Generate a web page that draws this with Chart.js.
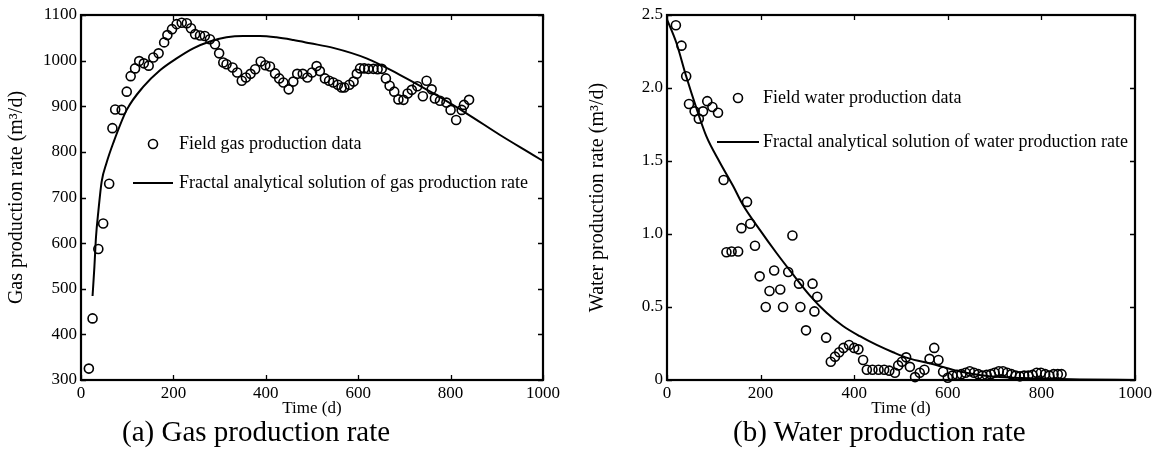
<!DOCTYPE html>
<html>
<head>
<meta charset="utf-8">
<script src="https://cdn.jsdelivr.net/npm/chart.js@4/dist/chart.umd.min.js"></script>
<style>
  html, body { margin: 0; padding: 0; background: #fff; }
  #wrap { position: relative; width: 1159px; height: 463px; overflow: hidden; }
  canvas { position: absolute; top: 0; }
  .cap { position: absolute; font-family: 'Liberation Serif', 'Times New Roman', serif; font-size: 29px; color: #000; white-space: nowrap; line-height: 1; }
</style>
</head>
<body>
<div id="wrap">
  <canvas id="gas" width="580" height="463" style="left:0px"></canvas>
  <canvas id="water" width="579" height="463" style="left:580px"></canvas>
  <div class="cap" id="capA" style="left:122px; top:417px;">(a) Gas production rate</div>
  <div class="cap" id="capB" style="left:733px; top:417px;">(b) Water production rate</div>
</div>
<script>
// ---- data ----
const xTickLabels = ['0', '200', '400', '600', '800', '1000'];
const gasTickLabels = ['300', '400', '500', '600', '700', '800', '900', '1000', '1100'];
const waterTickLabels = ['0', '0.5', '1.0', '1.5', '2.0', '2.5'];

// Field gas production data (time d, rate m3/d)
const gasTime = [17, 25, 37.5, 48, 61, 68, 74, 88, 99, 107.5, 117, 126, 136, 146.5, 156.5, 168, 180, 187, 197, 207,
  218, 229, 238, 247, 257.6, 268, 279, 290, 299, 308, 315, 328, 338, 348, 357, 367, 377, 389, 399, 409,
  420, 429, 438, 449.5, 459.5, 468, 480, 490, 500, 510, 517, 528, 537, 546, 556, 564, 570, 581, 590, 597,
  604, 613, 622, 633, 642, 651, 660, 668, 678, 687, 698, 707, 716, 728, 740, 748, 759, 766, 777, 791,
  800, 812, 824, 829, 840];
const gasRate = [325, 435, 587, 643, 730, 852, 893, 892, 932, 966, 983, 999, 994, 989, 1007, 1016, 1040, 1056, 1069, 1080,
  1083, 1082, 1071, 1058, 1055, 1054, 1047, 1036, 1016, 996, 992, 985, 974, 956, 963, 971, 981, 998, 990, 987,
  972, 961, 952, 937, 954, 971, 971, 963, 974, 988, 977, 961, 956, 952, 947, 941, 941, 947, 954, 971,
  983, 983, 982, 982, 981, 982, 961, 945, 932, 915, 914, 928, 936, 944, 922, 956, 937, 917, 912, 908,
  892, 870, 892, 903, 914];

// Fractal analytical solution of gas production rate
const gasFitTime = [25, 29, 32.5, 37.5, 44.7, 55, 70, 99, 135, 171, 207, 243, 279, 315, 351, 387, 423, 460, 496, 546, 618, 690, 763, 835, 907, 979, 1000];
const gasFitRate = [484, 548, 614, 669, 735, 775, 820, 892, 943, 979, 1005, 1027, 1042, 1051, 1054, 1054, 1051, 1045, 1038, 1028, 1005, 969, 928, 884, 837, 793, 780];

// Field water production data (time d, rate m3/d)
const waterTime = [19, 31, 41, 47, 59, 68, 77, 86, 97, 109, 121, 127, 138, 152, 159, 171, 178, 188, 198, 211,
  219, 229, 242, 248, 259, 268, 282, 285, 297, 311, 315, 321, 340, 350, 359, 368, 377, 389, 400, 409,
  419, 427, 439, 452, 464, 475, 487, 494, 502, 511, 519, 530, 540, 550, 561, 571, 580, 590, 600, 610,
  620, 629, 638, 647, 656, 665, 674, 683, 692, 700, 709, 718, 727, 736, 745, 754, 763, 772, 781, 790,
  799, 808, 817, 826, 835, 843];
const waterRate = [2.43, 2.29, 2.08, 1.89, 1.84, 1.79, 1.84, 1.91, 1.87, 1.83, 1.37, 0.875, 0.88, 0.88, 1.04, 1.22, 1.07, 0.92, 0.71, 0.50,
  0.61, 0.75, 0.62, 0.50, 0.74, 0.99, 0.66, 0.50, 0.34, 0.66, 0.47, 0.57, 0.29, 0.125, 0.16, 0.19, 0.22, 0.24, 0.22, 0.21,
  0.137, 0.07, 0.07, 0.07, 0.07, 0.064, 0.05, 0.10, 0.125, 0.155, 0.09, 0.02, 0.05, 0.07, 0.145, 0.22, 0.137, 0.057, 0.015, 0.03,
  0.035, 0.04, 0.05, 0.06, 0.05, 0.04, 0.03, 0.035, 0.04, 0.05, 0.06, 0.06, 0.05, 0.04, 0.03, 0.025, 0.03, 0.03, 0.035, 0.05,
  0.05, 0.04, 0.03, 0.04, 0.04, 0.04];

// Fractal analytical solution of water production rate
const waterFitTime = [0, 20, 41, 63, 84, 113, 141, 162, 198, 234, 270, 305, 341, 376, 412, 448, 483, 515, 567, 624, 667, 711, 800, 882, 1000];
const waterFitRate = [2.47, 2.31, 2.08, 1.86, 1.67, 1.49, 1.33, 1.20, 1.03, 0.87, 0.72, 0.58, 0.46, 0.37, 0.30, 0.24, 0.19, 0.15, 0.11, 0.06, 0.035, 0.02, 0.01, 0.004, 0.0];

// ---- helpers ----
const FONT = "'Liberation Serif', 'Times New Roman', serif";
const pts = (xs, ys) => xs.map((x, i) => ({ x: x, y: ys[i] }));

const framePlugin = {
  id: 'frame',
  afterDatasetsDraw(chart) {
    const { ctx, chartArea: a, scales } = chart;
    const L = 5;
    ctx.save();
    ctx.strokeStyle = '#000';
    ctx.lineWidth = 1.3;
    scales.x.ticks.forEach(t => {
      const px = Math.round(scales.x.getPixelForValue(t.value)) + 0.5;
      ctx.beginPath();
      ctx.moveTo(px, a.bottom); ctx.lineTo(px, a.bottom - L);
      ctx.moveTo(px, a.top); ctx.lineTo(px, a.top + L);
      ctx.stroke();
    });
    scales.y.ticks.forEach(t => {
      const py = Math.round(scales.y.getPixelForValue(t.value)) + 0.5;
      ctx.beginPath();
      ctx.moveTo(a.left, py); ctx.lineTo(a.left + L, py);
      ctx.moveTo(a.right, py); ctx.lineTo(a.right - L, py);
      ctx.stroke();
    });
    ctx.lineWidth = 2.2;
    ctx.strokeRect(a.left, a.top, a.right - a.left, a.bottom - a.top);
    // legend
    const lg = chart.options.plugins.innerLegend;
    ctx.font = '18px ' + FONT;
    ctx.fillStyle = '#000';
    ctx.textBaseline = 'middle';
    ctx.textAlign = 'left';
    ctx.lineWidth = 1.6;
    ctx.beginPath();
    ctx.arc(a.left + lg.mx, a.top + lg.my1, 4.5, 0, Math.PI * 2);
    ctx.stroke();
    ctx.fillText(lg.t1, a.left + lg.tx, a.top + lg.my1);
    ctx.lineWidth = 2;
    ctx.beginPath();
    ctx.moveTo(a.left + lg.l0, a.top + lg.my2);
    ctx.lineTo(a.left + lg.l1, a.top + lg.my2);
    ctx.stroke();
    ctx.fillText(lg.t2, a.left + lg.tx, a.top + lg.my2);
    ctx.restore();
  }
};

function makeChart(id, cfg) {
  return new Chart(document.getElementById(id), {
    type: 'scatter',
    data: {
      datasets: [
        {
          label: cfg.dataLabel,
          data: pts(cfg.xs, cfg.ys),
          pointStyle: 'circle',
          pointRadius: 4.5,
          pointBorderWidth: 1.6,
          pointBackgroundColor: 'rgba(0,0,0,0)',
          pointBorderColor: '#000',
          showLine: false,
          clip: false
        },
        {
          label: cfg.fitLabel,
          data: pts(cfg.fx, cfg.fy),
          showLine: true,
          pointRadius: 0,
          borderColor: '#000',
          borderWidth: 2,
          cubicInterpolationMode: 'monotone',
          fill: false
        }
      ]
    },
    options: {
      responsive: false,
      animation: false,
      devicePixelRatio: 1,
      layout: { padding: { left: 0, top: 15, right: cfg.padRight, bottom: 44 } },
      plugins: {
        legend: { display: false },
        tooltip: { enabled: false },
        innerLegend: cfg.legend
      },
      scales: {
        x: {
          type: 'linear',
          min: 0, max: 1000,
          afterBuildTicks: s => { s.ticks = xTickLabels.map(v => ({ value: Number(v) })); },
          ticks: {
            color: '#000', padding: 3, maxRotation: 0,
            font: { family: FONT, size: 17 },
            callback: (v, i) => xTickLabels[i]
          },
          grid: { display: false, drawTicks: false },
          border: { display: false },
          title: { display: true, text: 'Time (d)', color: '#000', font: { family: FONT, size: 17 }, padding: { top: 0, bottom: 0 } },
          afterFit: s => { s.height = 39; }
        },
        y: {
          type: 'linear',
          min: cfg.ymin, max: cfg.ymax,
          afterBuildTicks: s => { s.ticks = cfg.yTicks.map(v => ({ value: Number(v) })); },
          ticks: {
            color: '#000', padding: 4,
            font: { family: FONT, size: 17 },
            callback: (v, i) => cfg.yTicks[i]
          },
          grid: { display: false, drawTicks: false },
          border: { display: false },
          title: { display: true, text: cfg.yTitle, color: '#000', font: { family: FONT, size: 20 }, padding: { top: cfg.yTitlePad, bottom: 0 } },
          afterFit: s => { s.width = cfg.yWidth; }
        }
      }
    },
    plugins: [framePlugin]
  });
}

makeChart('gas', {
  xs: gasTime, ys: gasRate, fx: gasFitTime, fy: gasFitRate,
  dataLabel: 'Field gas production data',
  fitLabel: 'Fractal analytical solution of gas production rate',
  ymin: 300, ymax: 1100, yTicks: gasTickLabels,
  yTitle: 'Gas production rate (m\u00B3/d)',
  yWidth: 81, padRight: 37, yTitlePad: 5,
  legend: { mx: 72, my1: 129, tx: 98, l0: 52, l1: 92, my2: 168,
            t1: 'Field gas production data', t2: 'Fractal analytical solution of gas production rate' }
});

makeChart('water', {
  xs: waterTime, ys: waterRate, fx: waterFitTime, fy: waterFitRate,
  dataLabel: 'Field water production data',
  fitLabel: 'Fractal analytical solution of water production rate',
  ymin: 0, ymax: 2.5, yTicks: waterTickLabels,
  yTitle: 'Water production rate (m\u00B3/d)',
  yWidth: 87, padRight: 24, yTitlePad: 6,
  legend: { mx: 71, my1: 83, tx: 96, l0: 50, l1: 92, my2: 127,
            t1: 'Field water production data', t2: 'Fractal analytical solution of water production rate' }
});
</script>
</body>
</html>
